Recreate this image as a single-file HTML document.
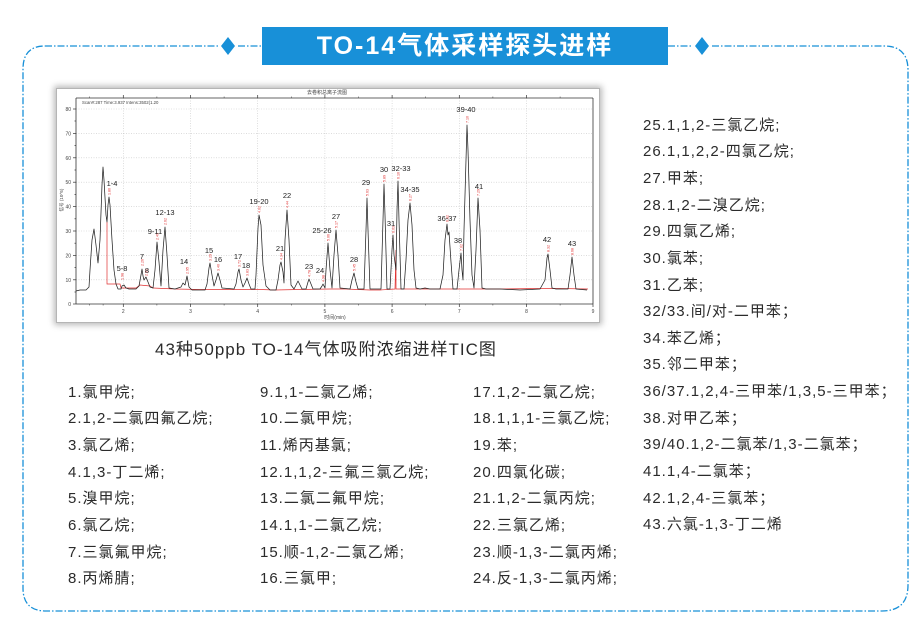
<!DOCTYPE html>
<html><head><meta charset="utf-8">
<style>
html,body{margin:0;padding:0;background:#fff;}
body{width:924px;height:629px;position:relative;overflow:hidden;font-family:"Liberation Sans","Noto Sans CJK SC",sans-serif;}
.t{position:absolute;white-space:nowrap;color:#2b2b2b;}
.col{position:absolute;font-size:15px;letter-spacing:1px;color:#2b2b2b;white-space:nowrap;}
.col div{height:26.65px;line-height:26.65px;}
#title{position:absolute;left:262px;top:27px;width:406px;height:38px;background:#1890d8;color:#fff;font-weight:bold;font-size:25px;letter-spacing:2px;line-height:38px;text-align:center;}
#frame{position:absolute;left:56px;top:88px;width:544px;height:235px;background:#fff;box-shadow:0 0 6px 2px rgba(0,0,0,0.28);border:1px solid #b5b5b5;box-sizing:border-box;}
</style></head><body>

<svg width="924" height="629" style="position:absolute;left:0;top:0">
  <path d="M 45 46 L 218 46 M 238 46 L 262 46 M 668 46 L 692 46 M 712 46 L 884 46 Q 908 46 908 70 L 908 585 Q 908 611 882 611 L 46 611 Q 23 611 23 588 L 23 69 Q 23 46 45 46" fill="none" stroke="#1890d8" stroke-width="1.3" stroke-dasharray="7 2 1.5 2"/>
  <polygon points="228,37 235,46 228,55 221,46" fill="#1890d8"/>
  <polygon points="702,37 709,46 702,55 695,46" fill="#1890d8"/>
</svg>

<div id="title">TO-14气体采样探头进样</div>

<div id="frame"></div>

<svg width="924" height="629" style="position:absolute;left:0;top:0" font-family="Liberation Sans, Noto Sans CJK SC, sans-serif">
  <!-- grid -->
  <g stroke="#c8c8c8" stroke-width="0.6" stroke-dasharray="1 1.5">
    <line x1="76" y1="109" x2="593" y2="109"/>
    <line x1="76" y1="133.4" x2="593" y2="133.4"/>
    <line x1="76" y1="157.8" x2="593" y2="157.8"/>
    <line x1="76" y1="182.2" x2="593" y2="182.2"/>
    <line x1="76" y1="206.6" x2="593" y2="206.6"/>
    <line x1="76" y1="231" x2="593" y2="231"/>
    <line x1="76" y1="255.4" x2="593" y2="255.4"/>
    <line x1="76" y1="279.8" x2="593" y2="279.8"/>
    <line x1="123.3" y1="98" x2="123.3" y2="304"/>
    <line x1="190.5" y1="98" x2="190.5" y2="304"/>
    <line x1="257.7" y1="98" x2="257.7" y2="304"/>
    <line x1="324.9" y1="98" x2="324.9" y2="304"/>
    <line x1="392.1" y1="98" x2="392.1" y2="304"/>
    <line x1="459.3" y1="98" x2="459.3" y2="304"/>
    <line x1="526.5" y1="98" x2="526.5" y2="304"/>
  </g>
  <!-- axes -->
  <g stroke="#333" stroke-width="0.8" fill="none">
    <line x1="76" y1="98" x2="593" y2="98"/>
    <line x1="76" y1="98" x2="76" y2="304"/>
    <line x1="76" y1="304" x2="593" y2="304"/>
    <line x1="593" y1="98" x2="593" y2="304"/>
  </g>
  <!-- ticks -->
  <g stroke="#333" stroke-width="0.7">
    <line x1="73" y1="109" x2="76" y2="109"/><line x1="73" y1="133.4" x2="76" y2="133.4"/><line x1="73" y1="157.8" x2="76" y2="157.8"/><line x1="73" y1="182.2" x2="76" y2="182.2"/><line x1="73" y1="206.6" x2="76" y2="206.6"/><line x1="73" y1="231" x2="76" y2="231"/><line x1="73" y1="255.4" x2="76" y2="255.4"/><line x1="73" y1="279.8" x2="76" y2="279.8"/><line x1="73" y1="304" x2="76" y2="304"/>
    <line x1="74.5" y1="121" x2="76" y2="121"/><line x1="74.5" y1="145.6" x2="76" y2="145.6"/><line x1="74.5" y1="170" x2="76" y2="170"/><line x1="74.5" y1="194.4" x2="76" y2="194.4"/><line x1="74.5" y1="218.8" x2="76" y2="218.8"/><line x1="74.5" y1="243.2" x2="76" y2="243.2"/><line x1="74.5" y1="267.6" x2="76" y2="267.6"/><line x1="74.5" y1="292" x2="76" y2="292"/>
    <line x1="123.3" y1="304" x2="123.3" y2="307"/><line x1="190.5" y1="304" x2="190.5" y2="307"/><line x1="257.7" y1="304" x2="257.7" y2="307"/><line x1="324.9" y1="304" x2="324.9" y2="307"/><line x1="392.1" y1="304" x2="392.1" y2="307"/><line x1="459.3" y1="304" x2="459.3" y2="307"/><line x1="526.5" y1="304" x2="526.5" y2="307"/><line x1="593" y1="304" x2="593" y2="307"/>
    <line x1="123.3" y1="98" x2="123.3" y2="95"/><line x1="190.5" y1="98" x2="190.5" y2="95"/><line x1="257.7" y1="98" x2="257.7" y2="95"/><line x1="324.9" y1="98" x2="324.9" y2="95"/><line x1="392.1" y1="98" x2="392.1" y2="95"/><line x1="459.3" y1="98" x2="459.3" y2="95"/><line x1="526.5" y1="98" x2="526.5" y2="95"/>
  </g>
  <g stroke="#333" stroke-width="0.5">
    <line x1="89.7" y1="304" x2="89.7" y2="305.5"/><line x1="103.1" y1="304" x2="103.1" y2="305.5"/><line x1="156.9" y1="304" x2="156.9" y2="305.5"/><line x1="224.1" y1="304" x2="224.1" y2="305.5"/><line x1="291.3" y1="304" x2="291.3" y2="305.5"/><line x1="358.5" y1="304" x2="358.5" y2="305.5"/><line x1="425.7" y1="304" x2="425.7" y2="305.5"/><line x1="492.9" y1="304" x2="492.9" y2="305.5"/><line x1="560.1" y1="304" x2="560.1" y2="305.5"/>
    <line x1="89.7" y1="98" x2="89.7" y2="96.5"/><line x1="156.9" y1="98" x2="156.9" y2="96.5"/><line x1="224.1" y1="98" x2="224.1" y2="96.5"/><line x1="291.3" y1="98" x2="291.3" y2="96.5"/><line x1="358.5" y1="98" x2="358.5" y2="96.5"/><line x1="425.7" y1="98" x2="425.7" y2="96.5"/><line x1="492.9" y1="98" x2="492.9" y2="96.5"/><line x1="560.1" y1="98" x2="560.1" y2="96.5"/>
  </g>
  <!-- tick labels -->
  <g font-size="5" fill="#444" text-anchor="end">
    <text x="71" y="111">80</text><text x="71" y="135.4">70</text><text x="71" y="159.8">60</text><text x="71" y="184.2">50</text><text x="71" y="208.6">40</text><text x="71" y="233">30</text><text x="71" y="257.4">20</text><text x="71" y="281.8">10</text><text x="71" y="306">0</text>
  </g>
  <g font-size="5" fill="#444" text-anchor="middle">
    <text x="123.3" y="313">2</text><text x="190.5" y="313">3</text><text x="257.7" y="313">4</text><text x="324.9" y="313">5</text><text x="392.1" y="313">6</text><text x="459.3" y="313">7</text><text x="526.5" y="313">8</text><text x="593" y="313">9</text>
    <text x="335" y="319">时间(min)</text>
    <text x="327" y="94">去卷积总离子流图</text>
  </g>
  <text x="63" y="200" font-size="4.5" fill="#444" text-anchor="middle" transform="rotate(-90 63 200)">信号 (10^5)</text>
  <text x="82" y="104" font-size="4.3" fill="#444">Scan#:287   Time:3.937   Intens:3502(1.20</text>

  <!-- red baseline -->
  <polyline fill="none" stroke="#e03030" stroke-width="0.7" points="107,222 107,284 120,284 121,288 136,288 140,285 150,286 153,288 175,289 200,289.5 260,289.5 275,290 300,289.5 330,289 345,289 370,290 380,290 395,289 396,250 396,289 420,289 450,289 500,289 540,288.5 560,288.5 588,289"/>

  <!-- trace -->
  <polyline fill="none" stroke="#222" stroke-width="0.75" stroke-linejoin="round" points="
76,291 80,290 86,290 89,287 90,270 92,240 94,229 96,245 98,263 100,240 102,185 103,167 104,180 106,215 107,222 108,205 109,197 110,205 112,240 114,270 116,284 118,289 121,289 122,286 124,285 126,288 129,289 136,289 139,286 141,275 142,269 143,276 144,280 146,277 148,282 150,287 153,288 155,270 157,242 159,262 161,286 163,250 165,227 167,255 169,288 175,289 181,287 183,283 185,285 187,276 189,287 192,290 205,290 207,284 209,268 210,263 212,275 214,286 216,280 218,273 220,280 222,288 234,289 236,284 238,272 239,269 241,280 243,287 245,283 247,278 249,284 251,289 255,289 256,275 258,228 259,215 261,225 263,265 266,286 270,290 276,290 278,280 280,265 281,262 283,272 284,283 285,240 287,210 289,240 291,285 294,289 296,285 298,281 300,285 302,289 306,289 308,282 309,279 311,284 313,289 320,289 322,286 323,284 325,288 326,270 328,243 330,270 332,288 334,255 336,230 338,255 340,288 350,289 352,280 354,273 356,282 358,289 364,289 366,230 367,198 368,230 370,289 381,289 383,220 384,184 385,215 387,289 390,289 392,250 393,235 394,255 396,270 397,210 398,181 399,220 401,289 404,289 406,260 408,220 410,203 412,225 414,270 416,288 420,289 425,288 430,289 440,289 443,275 445,240 447,224 448,235 449,232 451,262 453,289 457,289 459,270 461,253 462,270 463,280 464,230 466,160 467,125 468,150 470,220 472,275 474,288 476,250 478,198 480,230 482,288 486,289 500,289 520,290 540,289 545,280 547,258 548,254 550,270 552,288 556,289 568,289 570,275 572,257 574,275 576,289 587,290"/>

  <!-- red retention labels -->
  <g font-size="3.6" fill="#e03030">
    <text transform="translate(110.5,195) rotate(-90)">1.80</text>
    <text transform="translate(123.5,280) rotate(-90)">1.98</text>
    <text transform="translate(143.5,266) rotate(-90)">2.26</text>
    <text transform="translate(147.5,276) rotate(-90)">2.31</text>
    <text transform="translate(158.5,240) rotate(-90)">2.49</text>
    <text transform="translate(166.5,225) rotate(-90)">2.62</text>
    <text transform="translate(188.5,274) rotate(-90)">2.95</text>
    <text transform="translate(211.5,261) rotate(-90)">3.29</text>
    <text transform="translate(219.5,271) rotate(-90)">3.40</text>
    <text transform="translate(240.5,267) rotate(-90)">3.72</text>
    <text transform="translate(248.5,276) rotate(-90)">3.83</text>
    <text transform="translate(260.5,213) rotate(-90)">4.02</text>
    <text transform="translate(282.5,260) rotate(-90)">4.34</text>
    <text transform="translate(288.5,208) rotate(-90)">4.44</text>
    <text transform="translate(310.5,277) rotate(-90)">4.78</text>
    <text transform="translate(324.5,282) rotate(-90)">4.98</text>
    <text transform="translate(329.5,241) rotate(-90)">5.06</text>
    <text transform="translate(337.5,228) rotate(-90)">5.17</text>
    <text transform="translate(355.5,271) rotate(-90)">5.45</text>
    <text transform="translate(368.5,196) rotate(-90)">5.63</text>
    <text transform="translate(385.5,182) rotate(-90)">5.89</text>
    <text transform="translate(394.5,233) rotate(-90)">6.03</text>
    <text transform="translate(399.5,179) rotate(-90)">6.10</text>
    <text transform="translate(411.5,201) rotate(-90)">6.27</text>
    <text transform="translate(448.5,222) rotate(-90)">6.82</text>
    <text transform="translate(462.5,251) rotate(-90)">7.02</text>
    <text transform="translate(468.5,123) rotate(-90)">7.10</text>
    <text transform="translate(479.5,196) rotate(-90)">7.29</text>
    <text transform="translate(549.5,252) rotate(-90)">8.32</text>
    <text transform="translate(573.5,255) rotate(-90)">8.68</text>
  </g>

  <!-- peak labels -->
  <g font-size="7.5" fill="#222" text-anchor="middle">
    <text x="112" y="186">1-4</text>
    <text x="122" y="271">5-8</text>
    <text x="142" y="259">7</text>
    <text x="147" y="273">8</text>
    <text x="155" y="234">9-11</text>
    <text x="165" y="215">12-13</text>
    <text x="184" y="264">14</text>
    <text x="209" y="253">15</text>
    <text x="218" y="262">16</text>
    <text x="238" y="259">17</text>
    <text x="246" y="268">18</text>
    <text x="259" y="204">19-20</text>
    <text x="280" y="251">21</text>
    <text x="287" y="198">22</text>
    <text x="309" y="269">23</text>
    <text x="320" y="273">24</text>
    <text x="322" y="233">25-26</text>
    <text x="336" y="219">27</text>
    <text x="354" y="262">28</text>
    <text x="366" y="185">29</text>
    <text x="384" y="172">30</text>
    <text x="391" y="226">31</text>
    <text x="401" y="171">32-33</text>
    <text x="410" y="192">34-35</text>
    <text x="447" y="221">36-37</text>
    <text x="458" y="243">38</text>
    <text x="466" y="112">39-40</text>
    <text x="479" y="189">41</text>
    <text x="547" y="242">42</text>
    <text x="572" y="246">43</text>
  </g>
</svg>

<div class="t" style="left:155px;top:339px;font-size:17px;letter-spacing:1px;line-height:22px;">43种50ppb TO-14气体吸附浓缩进样TIC图</div>

<div class="col" style="left:68px;top:379.7px;">
  <div>1.氯甲烷;</div><div>2.1,2-二氯四氟乙烷;</div><div>3.氯乙烯;</div><div>4.1,3-丁二烯;</div><div>5.溴甲烷;</div><div>6.氯乙烷;</div><div>7.三氯氟甲烷;</div><div>8.丙烯腈;</div>
</div>
<div class="col" style="left:260px;top:379.7px;">
  <div>9.1,1-二氯乙烯;</div><div>10.二氯甲烷;</div><div>11.烯丙基氯;</div><div>12.1,1,2-三氟三氯乙烷;</div><div>13.二氯二氟甲烷;</div><div>14.1,1-二氯乙烷;</div><div>15.顺-1,2-二氯乙烯;</div><div>16.三氯甲;</div>
</div>
<div class="col" style="left:473px;top:379.7px;">
  <div>17.1,2-二氯乙烷;</div><div>18.1,1,1-三氯乙烷;</div><div>19.苯;</div><div>20.四氯化碳;</div><div>21.1,2-二氯丙烷;</div><div>22.三氯乙烯;</div><div>23.顺-1,3-二氯丙烯;</div><div>24.反-1,3-二氯丙烯;</div>
</div>
<div class="col" style="left:643px;top:112.7px;">
  <div>25.1,1,2-三氯乙烷;</div><div>26.1,1,2,2-四氯乙烷;</div><div>27.甲苯;</div><div>28.1,2-二溴乙烷;</div><div>29.四氯乙烯;</div><div>30.氯苯;</div><div>31.乙苯;</div><div>32/33.间/对-二甲苯；</div><div>34.苯乙烯；</div><div>35.邻二甲苯；</div><div>36/37.1,2,4-三甲苯/1,3,5-三甲苯；</div><div>38.对甲乙苯；</div><div>39/40.1,2-二氯苯/1,3-二氯苯；</div><div>41.1,4-二氯苯；</div><div>42.1,2,4-三氯苯；</div><div>43.六氯-1,3-丁二烯</div>
</div>

</body></html>
